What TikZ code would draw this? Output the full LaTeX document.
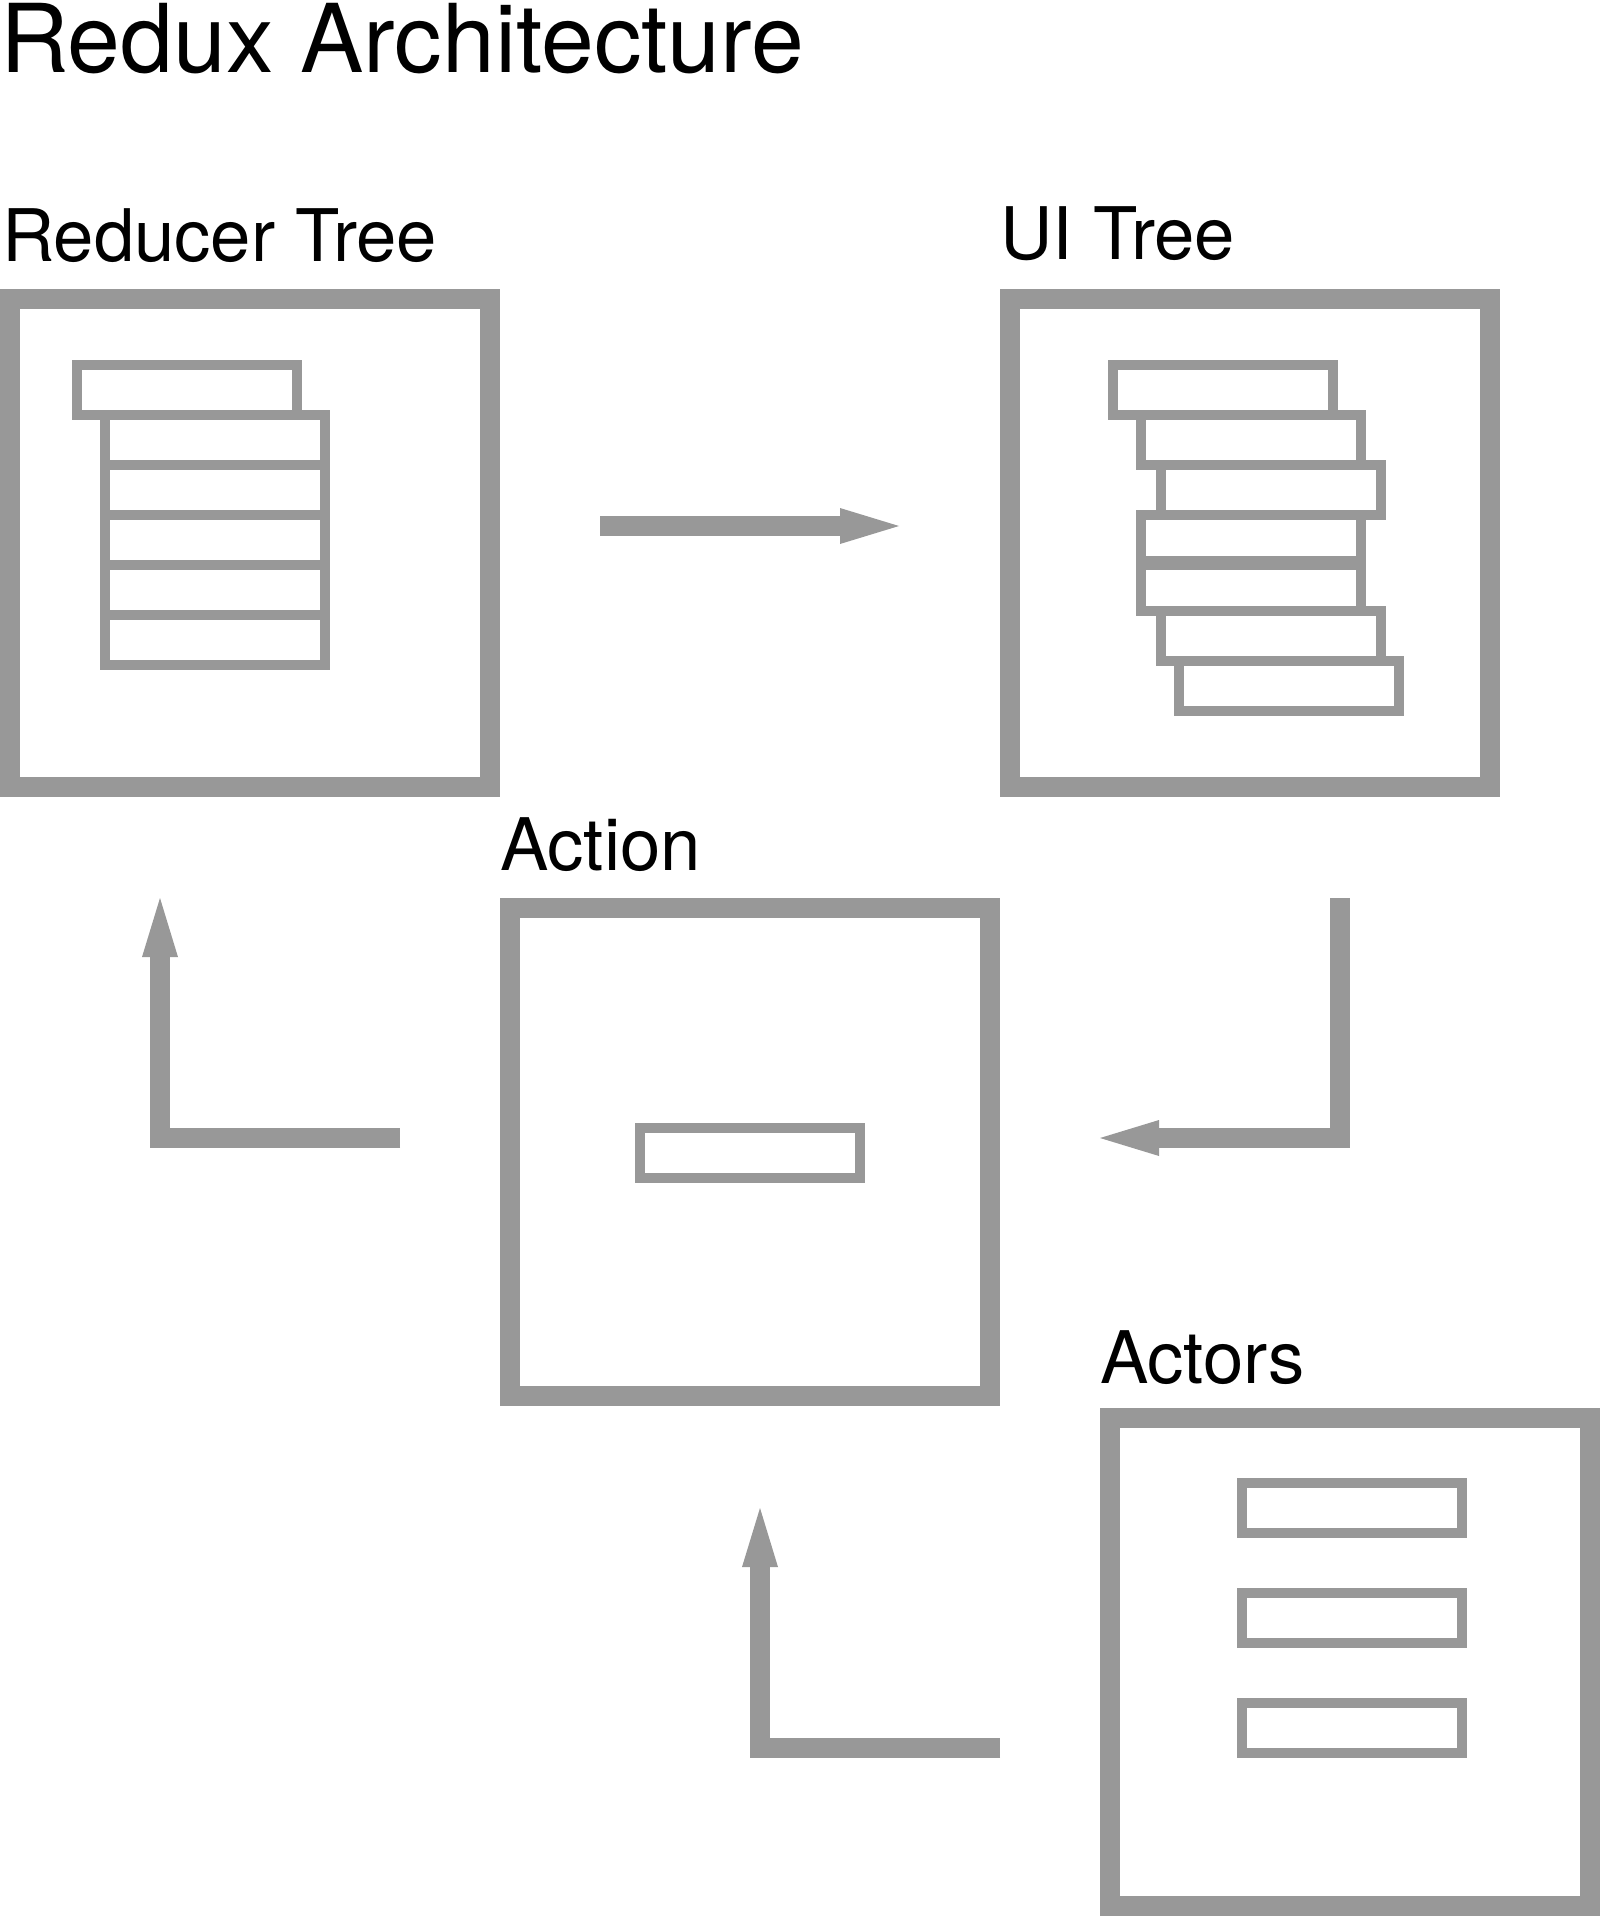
\documentclass[tikz,border=0pt]{standalone}
\usepackage{fontspec}
\setmainfont{TeX Gyre Heros}
\usetikzlibrary{arrows.meta}
\definecolor{boxgray}{RGB}{152,152,152}
\begin{document}
\begin{tikzpicture}[x=1pt,y=-1pt,
  bigbox/.style={draw=boxgray, line width=20pt, minimum width=480pt, minimum height=488pt,
    inner sep=0pt, outer sep=0pt, anchor=north west},
  slot/.style={draw=boxgray, line width=10pt, minimum width=220pt, minimum height=50pt,
    inner sep=0pt, outer sep=0pt, anchor=north west},
  lbl/.style={anchor=base west, inner sep=0pt, outer sep=0pt, font=\fontsize{72.5pt}{80pt}\selectfont},
  conn/.style={draw=boxgray, line width=20pt, line join=miter,
    -{Triangle[length=59pt 0 0, width=36pt 0 0, line width=0pt 0 0]}}
]
\useasboundingbox (0,0) rectangle (1600,1918);

% title
\node[anchor=base west, inner sep=0pt, font=\fontsize{95pt}{100pt}\selectfont] (title) at (0,73) {Redux Architecture};

% main boxes
\node[bigbox] (reducer) at (10,298.7) {};
\node[bigbox] (ui) at (1010,298.7) {};
\node[bigbox] (action) at (510,908) {};
\node[bigbox] (actors) at (1110,1418) {};

% labels
\node[lbl] (reducerlbl) at ([shift={(-8pt,37pt)}]reducer.north west) {Reducer Tree};
\node[lbl] (uilbl) at ([shift={(-9.5pt,39pt)}]ui.north west) {UI Tree};
\node[lbl] (actionlbl) at ([shift={(-10pt,38pt)}]action.north west) {Action};
\node[lbl] (actorslbl) at ([shift={(-10pt,35pt)}]actors.north west) {Actors};

% reducer tree rows
\node[slot] (r0) at (77,365) {};
\node[slot] (r1) at (105,415) {};
\node[slot] (r2) at (105,465) {};
\node[slot] (r3) at (105,515) {};
\node[slot] (r4) at (105,565) {};
\node[slot] (r5) at (105,615) {};

% UI tree rows
\node[slot] (u1) at (1113,365) {};
\node[slot] (u2) at (1141,415) {};
\node[slot] (u3) at (1161,465) {};
\node[slot, minimum height=46pt] (u4) at (1141,515) {};
\node[slot, minimum height=46pt] (u5) at (1141,565) {};
\node[slot] (u6) at (1161,611) {};
\node[slot] (u7) at (1179,661) {};

% action row
\node[slot] (a1) at (640,1128) {};

% actors rows
\node[slot] (c1) at (1242,1483) {};
\node[slot] (c2) at (1242,1593) {};
\node[slot] (c3) at (1242,1703) {};

% connectors
\coordinate (t1s) at (600,526);
\coordinate (t1e) at (899,526);
\draw[conn] (t1s) -- (t1e);

\coordinate (lfs) at (400,1138);
\coordinate (lfc) at (160,1138);
\coordinate (lfe) at (160,898);
\draw[conn] (lfs) -- (lfc) -- (lfe);

\coordinate (rts) at (1340,898);
\coordinate (rtc) at (1340,1138);
\coordinate (rte) at (1100,1138);
\draw[conn] (rts) -- (rtc) -- (rte);

\coordinate (bts) at (1000,1748);
\coordinate (btc) at (760,1748);
\coordinate (bte) at (760,1508);
\draw[conn] (bts) -- (btc) -- (bte);
\end{tikzpicture}
\end{document}
